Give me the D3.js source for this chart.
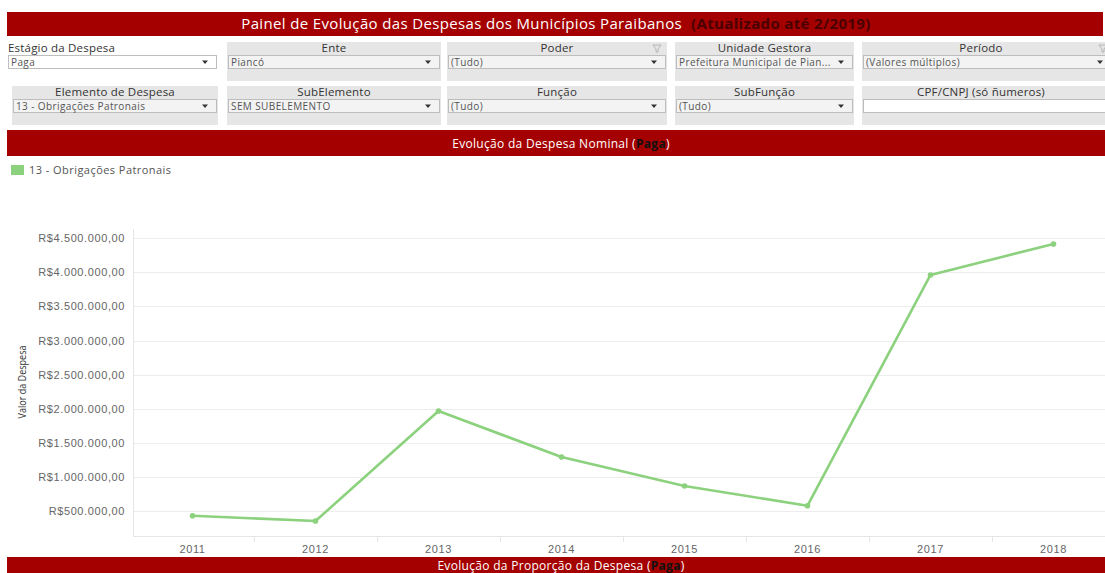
<!DOCTYPE html>
<html lang="pt">
<head>
    <meta charset="UTF-8">
    <title>Painel de Evolução das Despesas</title>
    <script src="https://d3js.org/d3.v7.min.js"></script>
    <style>
        body {
            margin: 0;
            padding: 0;
            background: white;
            font-family: 'Open Sans', 'Noto Sans', sans-serif;
        }
        svg { display: block; }
        .lbl { fill: #333; font-size: 11.5px; letter-spacing: 0.2px; }
        .ddtext { fill: #555; font-size: 10px; letter-spacing: 0.4px; }
        .tick text { fill: #666; font-size: 11px; letter-spacing: 0.6px; }
    </style>
</head>
<body>
    <svg width="1105" height="573"></svg>

    <script>
        // --- data ---
        const years = ["2011", "2012", "2013", "2014", "2015", "2016", "2017", "2018"];
        const values = [431000, 353000, 1967000, 1292000, 867000, 578000, 3962000, 4416000];
        const yTicks = [500000, 1000000, 1500000, 2000000, 2500000, 3000000, 3500000, 4000000, 4500000];
        const seriesName = "13 - Obrigações Patronais";

        const filtersRow1 = [
            {label: "Estágio da Despesa", value: "Paga"},
            {label: "Ente", value: "Piancó"},
            {label: "Poder", value: "(Tudo)"},
            {label: "Unidade Gestora", value: "Prefeitura Municipal de Pian..."},
            {label: "Período", value: "(Valores múltiplos)"}
        ];
        const filtersRow2 = [
            {label: "Elemento de Despesa", value: "13 - Obrigações Patronais"},
            {label: "SubElemento", value: "SEM SUBELEMENTO"},
            {label: "Função", value: "(Tudo)"},
            {label: "SubFunção", value: "(Tudo)"},
            {label: "CPF/CNPJ (só ñumeros)", value: ""}
        ];

        const svg = d3.select("svg");
        const red = "#a50000";

        // ---- title bar ----
        svg.append("rect").attr("x", 7).attr("y", 12).attr("width", 1096).attr("height", 24).attr("fill", red);
        const title = svg.append("text")
            .attr("x", 556).attr("y", 29)
            .attr("text-anchor", "middle")
            .style("font-size", "15px")
            .style("letter-spacing", "0.35px");
        title.append("tspan").attr("fill", "white").text("Painel de Evolução das Despesas dos Municípios Paraibanos");
        title.append("tspan").attr("dx", 9).attr("fill", "#4a0000").attr("font-weight", "bold").text("(Atualizado até 2/2019)");

        // ---- filter panels ----
        const cols = [
            {x: 7, w: 211},
            {x: 227, w: 214},
            {x: 447, w: 220},
            {x: 675, w: 179},
            {x: 862, w: 250}
        ];

        function drawRow(filters, y0, row) {
            filters.forEach((f, i) => {
                const c = cols[i];
                const g = svg.append("g");
                const noPanel = (row === 1 && i === 0);
                let x = c.x, w = c.w;
                if (row === 2 && i === 0) { x = 12; w = 206; }
                if (!noPanel) {
                    g.append("rect").attr("x", x).attr("y", y0).attr("width", w).attr("height", 39).attr("fill", "#e6e6e6");
                }
                g.append("text").attr("class", "lbl")
                    .attr("x", noPanel ? x + 1 : x + w / 2 + (i === 4 ? -6 : 0))
                    .attr("y", y0 + 10)
                    .attr("text-anchor", noPanel ? "start" : "middle")
                    .text(f.label);
                const isInput = (row === 2 && i === 4);
                const bx = x + 1, bw = (i === 4 ? 260 : w - 2);
                g.append("rect")
                    .attr("x", bx + 0.5).attr("y", y0 + 13.5)
                    .attr("width", bw - 1).attr("height", 13)
                    .attr("fill", (noPanel || isInput) ? "white" : "#f3f3f3")
                    .attr("stroke", "#bdbdbd");
                if (!isInput) {
                    g.append("text").attr("class", "ddtext")
                        .attr("x", bx + 3).attr("y", y0 + 24)
                        .text(f.value);
                    const ax = i === 4 ? 1100 : bx + bw - 12;
                    g.append("path")
                        .attr("d", `M${ax - 3},${y0 + 18.5}L${ax + 3},${y0 + 18.5}L${ax},${y0 + 22}Z`)
                        .attr("fill", "#333");
                }
            });
        }
        drawRow(filtersRow1, 42, 1);
        drawRow(filtersRow2, 86, 2);

        // small filter icons
        [[657, 48], [1103, 48]].forEach(p => {
            svg.append("path")
                .attr("d", `M${p[0] - 4},${p[1] - 3}L${p[0] + 4},${p[1] - 3}L${p[0] + 1},${p[1] + 1}L${p[0] + 1},${p[1] + 4}L${p[0] - 1},${p[1] + 4}L${p[0] - 1},${p[1] + 1}Z`)
                .attr("fill", "none").attr("stroke", "#aaa").attr("stroke-width", 0.8);
        });

        // ---- section bars ----
        function sectionBar(y, h, label, ty, fs) {
            svg.append("rect").attr("x", 7).attr("y", y).attr("width", 1098).attr("height", h).attr("fill", red);
            const t = svg.append("text").attr("x", 561).attr("y", ty)
                .attr("text-anchor", "middle")
                .style("font-size", fs + "px")
                .style("letter-spacing", "0.3px");
            t.append("tspan").attr("fill", "white").text(label + " (");
            t.append("tspan").attr("fill", "#111").attr("font-weight", "bold").text("Paga");
            t.append("tspan").attr("fill", "white").text(")");
        }
        sectionBar(130, 26, "Evolução da Despesa Nominal", 148, 12);
        sectionBar(557, 20, "Evolução da Proporção da Despesa", 570, 12);

        // ---- legend ----
        svg.append("rect").attr("x", 11).attr("y", 165).attr("width", 13).attr("height", 10).attr("fill", "#8cd17d");
        svg.append("text").attr("x", 29).attr("y", 174)
            .attr("fill", "#555").style("font-size", "11px").style("letter-spacing", "0.45px")
            .text(seriesName);

        // ---- line chart ----
        const x = d3.scaleBand().domain(years).range([131, 1115]);
        const y = d3.scaleLinear().domain([138000, 4636000]).range([535.7, 229]);

        const br = d3.formatLocale({decimal: ",", thousands: ".", grouping: [3], currency: ["R$", ""]});
        const fmt = br.format("$,.2f");

        const plot = svg.append("g");

        // gridlines
        plot.selectAll(".grid")
            .data(yTicks)
            .enter().append("line")
            .attr("x1", 133).attr("x2", 1105)
            .attr("y1", d => Math.round(y(d)) + 0.5)
            .attr("y2", d => Math.round(y(d)) + 0.5)
            .attr("stroke", "#ededed");

        // y axis labels
        const yAxis = plot.append("g")
            .attr("transform", "translate(133,0)")
            .call(d3.axisLeft(y).tickValues(yTicks).tickFormat(fmt).tickSize(0).tickPadding(8));
        yAxis.select(".domain").attr("stroke", "#e6e6e6").attr("d", "M0.5,229V536");

        // x axis
        const xAxis = plot.append("g")
            .attr("transform", "translate(0,536)")
            .call(d3.axisBottom(x).tickSize(0).tickPadding(9));
        xAxis.select(".domain").attr("stroke", "#e6e6e6").attr("d", "M133,0.5H1105");
        plot.selectAll(".sep")
            .data(years.slice(1))
            .enter().append("line")
            .attr("x1", d => Math.round(x(d)) + 0.5).attr("x2", d => Math.round(x(d)) + 0.5)
            .attr("y1", 536).attr("y2", 542)
            .attr("stroke", "#e6e6e6");

        svg.append("text")
            .attr("transform", "translate(26,382) rotate(-90)")
            .attr("text-anchor", "middle")
            .attr("fill", "#333")
            .attr("textLength", 73)
            .attr("lengthAdjust", "spacingAndGlyphs")
            .style("font-size", "11px")
            .text("Valor da Despesa");

        const pts = years.map((yr, i) => ({year: yr, value: values[i]}));
        const line = d3.line()
            .x(d => x(d.year) + x.bandwidth() / 2)
            .y(d => y(d.value));

        plot.append("path")
            .datum(pts)
            .attr("d", line)
            .attr("fill", "none")
            .attr("stroke", "#8cd17d")
            .attr("stroke-width", 2.6)
            .attr("stroke-linejoin", "round");

        plot.selectAll(".dot")
            .data(pts)
            .enter().append("circle")
            .attr("cx", d => x(d.year) + x.bandwidth() / 2)
            .attr("cy", d => y(d.value))
            .attr("r", 2.8)
            .attr("fill", "#8cd17d");
    </script>
</body>
</html>
